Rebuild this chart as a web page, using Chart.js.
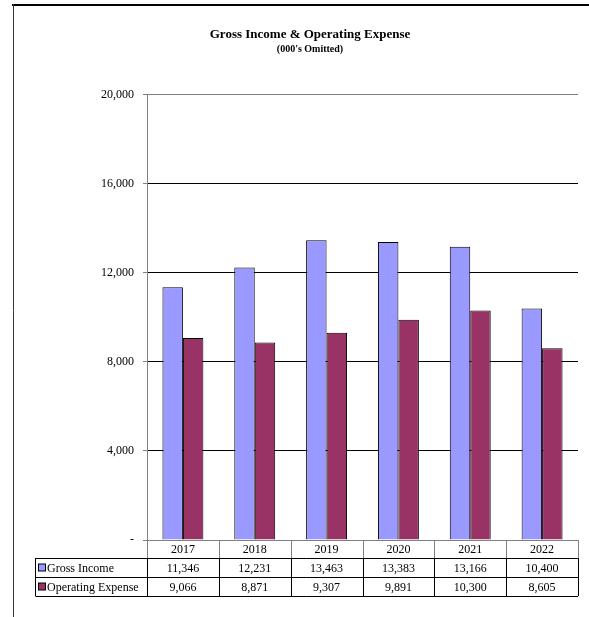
<!DOCTYPE html>
<html>
<head>
<meta charset="utf-8">
<script src="https://cdn.jsdelivr.net/npm/chart.js@4"></script>
<style>
  html, body { margin: 0; padding: 0; background: #fff; }
  #wrap { width: 589px; height: 617px; }
</style>
</head>
<body>
<div id="wrap"><canvas id="chart" width="589" height="617"></canvas></div>
<script>
const years = ["2017", "2018", "2019", "2020", "2021", "2022"];
const grossIncome = [11346, 12231, 13463, 13383, 13166, 10400];
const operatingExpense = [9066, 8871, 9307, 9891, 10300, 8605];
const yTicks = [0, 4000, 8000, 12000, 16000, 20000];

const serif = "'Liberation Serif', 'Times New Roman', serif";
const fmt = v => v.toLocaleString("en-US");

// page frame lines (left + top)
const framePlugin = {
  id: "frame",
  beforeDraw(chart) {
    const ctx = chart.ctx;
    ctx.save();
    ctx.fillStyle = "#fff";
    ctx.fillRect(0, 0, chart.width, chart.height);
    ctx.strokeStyle = "#000";
    ctx.lineWidth = 2;
    ctx.beginPath();
    ctx.moveTo(12, 5);
    ctx.lineTo(chart.width, 5);
    ctx.stroke();
    ctx.lineWidth = 1;
    ctx.strokeStyle = "#333";
    ctx.beginPath();
    ctx.moveTo(13.5, 4);
    ctx.lineTo(13.5, chart.height);
    ctx.stroke();
    ctx.restore();
  }
};

// data table under the x axis
const tablePlugin = {
  id: "dataTable",
  afterDraw(chart) {
    const ctx = chart.ctx;
    const x = chart.scales.x;
    const area = chart.chartArea;
    const colW = (area.right - area.left) / years.length;
    const tableLeft = 35.5;
    const rows = [area.bottom, area.bottom + 18, area.bottom + 37, area.bottom + 56];
    const series = [
      { name: "Gross Income", color: "#9999ff", values: grossIncome },
      { name: "Operating Expense", color: "#993366", values: operatingExpense }
    ];

    ctx.save();
    ctx.lineWidth = 1;

    // header row (years)
    ctx.strokeStyle = "#808080";
    ctx.beginPath();
    for (let i = 0; i <= years.length; i++) {
      const px = Math.round(area.left + i * colW) + 0.5;
      ctx.moveTo(px, rows[0]);
      ctx.lineTo(px, rows[1]);
    }
    ctx.stroke();

    // body rows
    ctx.strokeStyle = "#000";
    ctx.beginPath();
    for (let r = 1; r < rows.length; r++) {
      ctx.moveTo(tableLeft, Math.round(rows[r]) + 0.5);
      ctx.lineTo(area.right, Math.round(rows[r]) + 0.5);
    }
    ctx.moveTo(tableLeft, rows[1]);
    ctx.lineTo(tableLeft, rows[3]);
    for (let i = 0; i <= years.length; i++) {
      const px = Math.round(area.left + i * colW) + 0.5;
      ctx.moveTo(px, rows[1]);
      ctx.lineTo(px, rows[3]);
    }
    ctx.stroke();

    ctx.fillStyle = "#000";
    ctx.font = "12px " + serif;
    ctx.textAlign = "center";
    ctx.textBaseline = "middle";
    years.forEach((y, i) => {
      ctx.fillText(y, x.getPixelForValue(i), (rows[0] + rows[1]) / 2 + 1);
    });

    series.forEach((s, r) => {
      const cy = (rows[r + 1] + rows[r + 2]) / 2 + 1;
      ctx.textAlign = "center";
      s.values.forEach((v, i) => {
        ctx.fillText(fmt(v), x.getPixelForValue(i), cy);
      });
      // legend key
      ctx.fillStyle = s.color;
      ctx.fillRect(38.5, cy - 4.5, 7, 7);
      ctx.strokeRect(38.5, cy - 4.5, 7, 7);
      ctx.fillStyle = "#000";
      ctx.textAlign = "left";
      ctx.fillText(s.name, 47, cy);
    });
    ctx.restore();
  }
};

const data = {
  labels: years,
  datasets: [
    {
      label: "Gross Income",
      backgroundColor: "#9999ff",
      borderColor: "#000",
      borderWidth: 1,
      data: grossIncome
    },
    {
      label: "Operating Expense",
      backgroundColor: "#993366",
      borderColor: "#000",
      borderWidth: 1,
      data: operatingExpense
    }
  ]
};

const config = {
  type: "bar",
  data: data,
  plugins: [framePlugin, tablePlugin],
  options: {
    responsive: false,
    animation: false,
    categoryPercentage: 0.57,
    barPercentage: 1,
    layout: { padding: { left: 42, right: 11, top: 27, bottom: 77 } },
    plugins: {
      legend: { display: false },
      tooltip: { enabled: false },
      title: {
        display: true,
        text: "Gross Income & Operating Expense",
        color: "#000",
        font: { family: serif, size: 13, weight: "bold" },
        padding: { top: 0, bottom: 0 }
      },
      subtitle: {
        display: true,
        text: "(000's Omitted)",
        color: "#000",
        font: { family: serif, size: 10, weight: "bold" },
        padding: { top: 1, bottom: 39 }
      }
    },
    scales: {
      x: {
        grid: { display: false },
        border: { display: true, color: "#808080" },
        ticks: { display: false },
        afterFit: s => { s.height = 0; }
      },
      y: {
        min: 0,
        max: 20000,
        afterBuildTicks: s => { s.ticks = yTicks.map(v => ({ value: v })); },
        afterFit: s => { s.width = 105; },
        border: { color: "#808080" },
        grid: {
          color: c => (c.tick && c.tick.value === 20000 ? "#808080" : "#000"),
          tickLength: 4,
          tickColor: "#808080"
        },
        ticks: {
          color: "#000",
          padding: 9,
          font: { family: serif, size: 12 },
          callback: v => (v === 0 ? "-" : fmt(v))
        }
      }
    }
  }
};

const myChart = new Chart(document.getElementById("chart"), config);
</script>
</body>
</html>
